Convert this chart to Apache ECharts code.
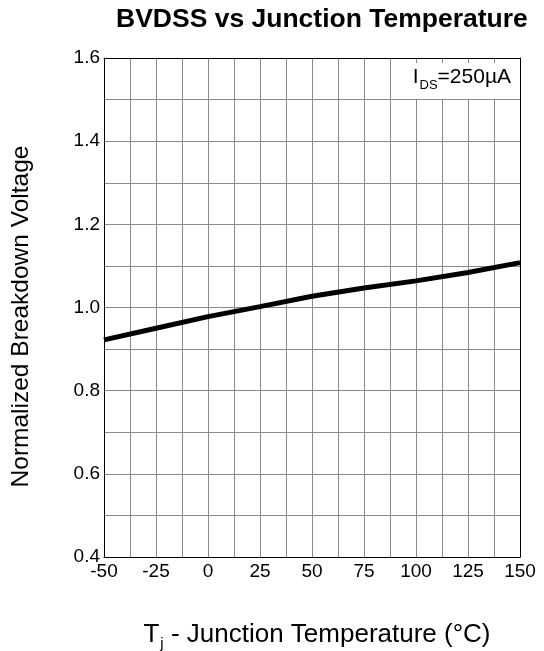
<!DOCTYPE html>
<html>
<head>
<meta charset="utf-8">
<script src="https://cdn.jsdelivr.net/npm/echarts@6/dist/echarts.min.js"></script>
<style>html,body{margin:0;padding:0;background:#fff}#c{width:544px;height:651px}</style>
</head>
<body>
<div id="c"></div>
<script>
const temperatures = [-50, -25, 0, 25, 50, 75, 100, 125, 150];
const bvdss = [0.922, 0.950, 0.978, 1.002, 1.027, 1.047, 1.064, 1.084, 1.108];
const titleText = 'BVDSS vs Junction Temperature';
const yName = 'Normalized Breakdown Voltage';

const chart = echarts.init(document.getElementById('c'));
const font = 'Liberation Sans, Arial, sans-serif';
chart.setOption({
  animation: false,
  backgroundColor: '#fff',
  title: [{
    text: titleText,
    left: 111, top: 1,
    textStyle: { fontFamily: font, fontWeight: 'bold', fontSize: 26.5, color: '#000' }
  }, {
    text: '{i|I}{s|DS}{n|=250µA}',
    right: 25, top: 63,
    backgroundColor: '#fff',
    padding: [4, 8, 7, 20],
    textStyle: {
      fontWeight: 'normal',
      rich: {
        i: { fontFamily: font, fontWeight: 'normal', fontSize: 21, color: '#000', verticalAlign: 'bottom' },
        s: { fontFamily: font, fontWeight: 'normal', fontSize: 13, color: '#000', verticalAlign: 'bottom', padding: [0, 0, -4, 1] },
        n: { fontFamily: font, fontWeight: 'normal', fontSize: 21, color: '#000', verticalAlign: 'bottom' }
      }
    }
  }],
  grid: { left: 104, right: 24, top: 58, bottom: 94, outerBoundsMode: 'none', containLabel: false },
  xAxis: [{
    type: 'value', min: -50, max: 150, interval: 25,
    axisLine: { show: true, onZero: false, lineStyle: { color: '#000', width: 1 } },
    axisTick: { show: false },
    minorTick: { show: false, splitNumber: 2 },
    splitLine: { show: true, lineStyle: { color: '#8a8a8a', width: 1 } },
    minorSplitLine: { show: true, lineStyle: { color: '#8a8a8a', width: 1 } },
    axisLabel: { fontFamily: font, fontSize: 19, color: '#000', margin: 5 },
    name: '{a|T}{b|j}{a| - Junction Temperature (°C)}',
    nameLocation: 'middle', nameGap: 65,
    nameTextStyle: {
      padding: [0, 0, 0, 10],
      rich: {
        a: { fontFamily: font, fontSize: 26, color: '#000', verticalAlign: 'bottom' },
        b: { fontFamily: font, fontSize: 15, color: '#000', verticalAlign: 'bottom', padding: [0, 0, -3, 1] }
      }
    }
  }, {
    type: 'value', min: -50, max: 150, position: 'top',
    axisLine: { show: true, onZero: false, lineStyle: { color: '#000', width: 1 } },
    axisTick: { show: false }, axisLabel: { show: false }, splitLine: { show: false }
  }],
  yAxis: [{
    type: 'value', min: 0.4, max: 1.6, interval: 0.2,
    axisLine: { show: true, onZero: false, lineStyle: { color: '#000', width: 1 } },
    axisTick: { show: false },
    minorTick: { show: false, splitNumber: 2 },
    splitLine: { show: true, lineStyle: { color: '#8a8a8a', width: 1 } },
    minorSplitLine: { show: true, lineStyle: { color: '#8a8a8a', width: 1 } },
    axisLabel: { fontFamily: font, fontSize: 19, color: '#000', margin: 4, formatter: v => v.toFixed(1) },
    name: yName, nameLocation: 'middle', nameGap: 70,
    nameTextStyle: { fontFamily: font, fontSize: 24.5, color: '#000', padding: [0, 18, 0, 0] }
  }, {
    type: 'value', min: 0.4, max: 1.6, position: 'right',
    axisLine: { show: true, onZero: false, lineStyle: { color: '#000', width: 1 } },
    axisTick: { show: false }, axisLabel: { show: false }, splitLine: { show: false }
  }],
  series: [{
    type: 'line',
    data: temperatures.map((t, i) => [t, bvdss[i]]),
    showSymbol: false,
    lineStyle: { color: '#000', width: 5 },
    z: 5
  }]
});
</script>
</body>
</html>
